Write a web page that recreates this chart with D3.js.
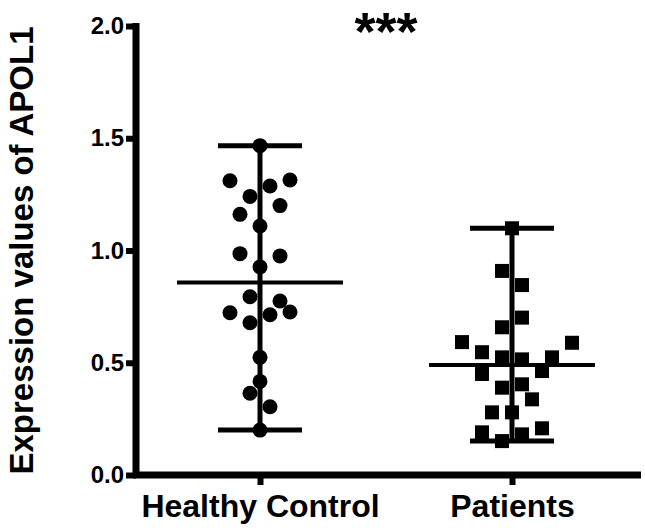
<!DOCTYPE html>
<html>
<head>
<meta charset="utf-8">
<script src="https://cdn.jsdelivr.net/npm/d3@7"></script>
<style>
  body { margin: 0; background: #fff; }
  svg { display: block; }
  text { font-family: "Liberation Sans", Arial, sans-serif; font-weight: bold; fill: #000; }
</style>
</head>
<body>
<div id="chart"></div>
<script>
var groups = ["Healthy Control", "Patients"];

var healthyValues = [1.467, 1.311, 1.314, 1.287, 1.241, 1.200, 1.161, 1.109, 0.986, 0.976, 0.927,
                     0.794, 0.775, 0.723, 0.714, 0.726, 0.678, 0.524, 0.417, 0.364, 0.304, 0.200];
// column slot of each dot in the scatter (0 = centre)
var healthySlots = [0, -3, 3, 1, -1, 2, -2, 0, -2, 2, 0,
                    -1, 2, -3, 1, 3, -1, 0, 0, -1, 1, 0];

var patientValues = [1.099, 0.909, 0.846, 0.701, 0.658, 0.592, 0.589, 0.547, 0.524, 0.515, 0.524,
                     0.450, 0.463, 0.389, 0.404, 0.337, 0.279, 0.279, 0.190, 0.208, 0.181, 0.151];
var patientSlots = [0, -1, 1, 1, -1, -5, 6, -3, -1, 1, 4,
                    -3, 3, -1, 1, 2, -2, 0, -3, 3, 1, -1];

var meanValues = [0.858, 0.49];
var yTicks = [0, 0.5, 1.0, 1.5, 2.0];
var yLabel = "Expression values of APOL1";
var significance = "***";

var canvasWidth = 645,
    canvasHeight = 528;

var svg = d3.select("#chart")
    .append("svg")
    .attr("width", canvasWidth)
    .attr("height", canvasHeight);

var y = d3.scaleLinear()
    .domain([0, 2])
    .range([475, 26]);

var x = d3.scalePoint()
    .domain(groups)
    .range([134, 638])
    .padding(0.5);

var slot = d3.scaleLinear()
    .domain([0, 1])
    .range([0, 10]);

var series = [
    { name: groups[0], values: healthyValues, slots: healthySlots, mean: meanValues[0], shape: "circle" },
    { name: groups[1], values: patientValues, slots: patientSlots, mean: meanValues[1], shape: "square" }
];

// y axis
var yAxis = svg.append("g")
    .attr("transform", "translate(136,0)")
    .call(d3.axisLeft(y).tickValues(yTicks).tickFormat(d3.format(".1f")).tickSize(10).tickSizeOuter(0));

yAxis.select(".domain")
    .attr("stroke", "#000")
    .attr("stroke-width", 7)
    .attr("d", "M0," + (y(2) - 3) + "V" + (y(0) + 3));

yAxis.selectAll(".tick line")
    .attr("stroke", "#000")
    .attr("stroke-width", 6);

yAxis.selectAll(".tick text")
    .attr("x", -12)
    .style("font-size", "24px");

// x axis
var xAxis = svg.append("g")
    .attr("transform", "translate(0," + y(0) + ")")
    .call(d3.axisBottom(x).tickSize(10).tickSizeOuter(0));

xAxis.select(".domain")
    .attr("stroke", "#000")
    .attr("stroke-width", 7)
    .attr("d", "M133,0H641");

xAxis.selectAll(".tick line")
    .attr("stroke", "#000")
    .attr("stroke-width", 6);

xAxis.selectAll(".tick text")
    .attr("y", 19)
    .attr("dy", "0.71em")
    .style("font-size", "32px");

// y label
svg.append("text")
    .attr("transform", "translate(33," + ((y(0) + y(2)) / 2) + ") rotate(-90)")
    .attr("text-anchor", "middle")
    .style("font-size", "33px")
    .text(yLabel);

// significance stars
svg.append("text")
    .attr("x", (x(groups[0]) + x(groups[1])) / 2)
    .attr("y", 50)
    .attr("text-anchor", "middle")
    .style("font-size", "54px")
    .text(significance);

// range bars and mean line
var bars = svg.selectAll(".range")
    .data(series)
    .enter()
    .append("g")
    .attr("class", "range")
    .attr("transform", function(d) { return "translate(" + x(d.name) + ",0)"; });

bars.append("line")
    .attr("y1", function(d) { return y(d3.max(d.values)); })
    .attr("y2", function(d) { return y(d3.min(d.values)); })
    .attr("stroke", "#000")
    .attr("stroke-width", 5);

bars.append("line")
    .attr("x1", -42).attr("x2", 42)
    .attr("y1", function(d) { return y(d3.max(d.values)); })
    .attr("y2", function(d) { return y(d3.max(d.values)); })
    .attr("stroke", "#000")
    .attr("stroke-width", 5);

bars.append("line")
    .attr("x1", -42).attr("x2", 42)
    .attr("y1", function(d) { return y(d3.min(d.values)); })
    .attr("y2", function(d) { return y(d3.min(d.values)); })
    .attr("stroke", "#000")
    .attr("stroke-width", 5);

bars.append("line")
    .attr("x1", -83).attr("x2", 83)
    .attr("y1", function(d) { return y(d.mean); })
    .attr("y2", function(d) { return y(d.mean); })
    .attr("stroke", "#000")
    .attr("stroke-width", 4);

// dots
series.forEach(function(s) {
    var pts = s.values.map(function(v, i) { return { value: v, slot: s.slots[i] }; });
    if (s.shape === "circle") {
        svg.selectAll(".dot-" + s.shape)
            .data(pts)
            .enter()
            .append("circle")
            .attr("class", "dot-" + s.shape)
            .attr("cx", function(d) { return x(s.name) + slot(d.slot); })
            .attr("cy", function(d) { return y(d.value); })
            .attr("r", 7.5)
            .attr("fill", "#000");
    } else {
        svg.selectAll(".dot-" + s.shape)
            .data(pts)
            .enter()
            .append("rect")
            .attr("class", "dot-" + s.shape)
            .attr("x", function(d) { return x(s.name) + slot(d.slot) - 7; })
            .attr("y", function(d) { return y(d.value) - 7; })
            .attr("width", 14)
            .attr("height", 14)
            .attr("fill", "#000");
    }
});
</script>
</body>
</html>
